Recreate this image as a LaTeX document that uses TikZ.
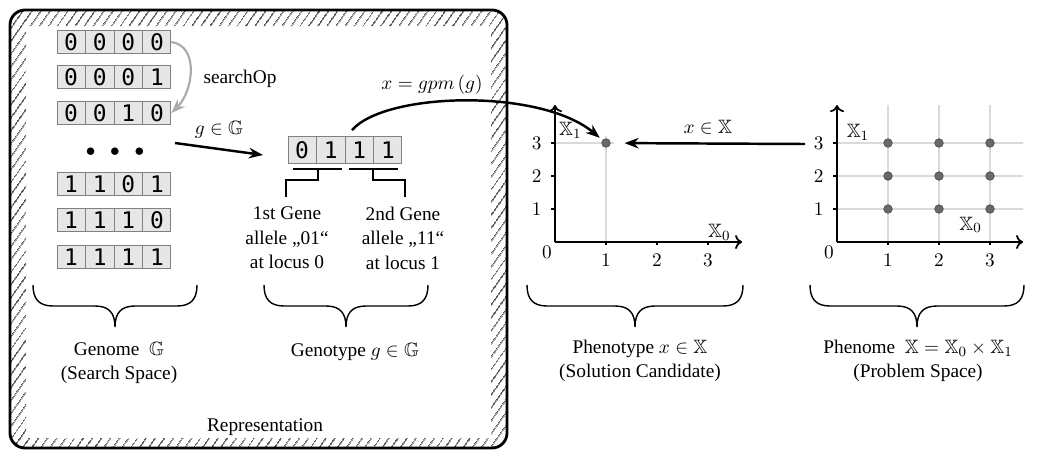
\documentclass[tikz,border=0pt]{standalone}
\usepackage{amsmath, amssymb}
\usepackage{fontspec}
\setmainfont{Liberation Serif}
\newfontfamily\bitfont{DejaVu Sans Mono}
\usepackage{tikz}
\usetikzlibrary{arrows.meta, positioning, calc, shapes.multipart, patterns.meta}
\definecolor{cellgray}{RGB}{230,230,230}
\definecolor{gridgray}{RGB}{218,218,218}
\definecolor{dotgray}{RGB}{105,105,105}
\definecolor{opgray}{RGB}{170,170,170}
\newcommand{\bitcells}[4]{#1\nodepart{two}#2\nodepart{three}#3\nodepart{four}#4}

\tikzset{
  bitstr/.style={rectangle split, rectangle split horizontal, rectangle split parts=4,
    draw=gray, fill=cellgray, line width=0.5pt, font=\bitfont\fontsize{13}{13}\selectfont,
    inner xsep=4pt, inner ysep=1.75pt, text height=9.5pt, text depth=0pt},
  axis/.style={-{To[length=4pt,width=8pt]}, line width=1pt},
  tck/.style={line width=0.8pt},
  pt/.style={circle, fill=dotgray, draw=dotgray!70!black, line width=0.4pt, inner sep=0pt, minimum size=0.17cm},
  brc/.style={line width=0.8pt},
  pics/spcbrace/.style={code={
    \draw[brc] (-#1,0) .. controls (-#1,14) and (-#1+6,21) .. (-#1+20,21) -- (-20,21)
      .. controls (-6,21) and (0,28) .. (0,42) .. controls (0,28) and (6,21) .. (20,21)
      -- (#1-20,21) .. controls (#1-6,21) and (#1,14) .. (#1,0);
  }}
}

\begin{document}
\begin{tikzpicture}[x=0.02cm, y=-0.02cm, >={Stealth[length=8pt,width=6pt]},
    every node/.style={font=\fontsize{11}{13.6}\selectfont}]
  \useasboundingbox (0,0) rectangle (1040,450);

  % representation frame
  \fill[pattern={Lines[angle=55, distance=4pt, line width=0.45pt]}, even odd rule]
    [rounded corners=0.3cm] (10,10) rectangle (507,448) [sharp corners] (26,26) rectangle (491,438);
  \draw[line width=1.6pt, rounded corners=0.3cm] (10,10) rectangle (507,448);
  \node (repr) at (265,427) {Representation};

  % genome
  \node[bitstr] (g0000) at (114,42)  {\bitcells0000};
  \node[bitstr] (g0001) at (114,77)  {\bitcells0001};
  \node[bitstr] (g0010) at (114,113) {\bitcells0010};
  \node (gdots) at (115,152) {$\bullet\hspace{6pt}\bullet\hspace{6pt}\bullet$};
  \node[bitstr] (g1101) at (114,184) {\bitcells1101};
  \node[bitstr] (g1110) at (114,220) {\bitcells1110};
  \node[bitstr] (g1111) at (114,257) {\bitcells1111};
  \draw[->, opgray, line width=1.2pt] (g0000.east) .. controls +(28,4) and +(22,-22) .. (g0010.east);
  \node (srchop) at (240,79) {searchOp};

  % genotype
  \node[bitstr, inner ysep=2.9pt] (gtype) at (345,150) {\bitcells0111};
  \coordinate (gpick) at (175,143);
  \coordinate (gput) at (263,155);
  \draw[->, line width=1.4pt] (gpick) -- (gput) node[midway, above=2pt] {$g\in\mathbb{G}$};
  \draw[line width=1.4pt] (293,169) -- (342,169) (318,169) -- (318,180) -- (286,180) -- (286,197);
  \draw[line width=1.4pt] (349,169) -- (398,169) (373,169) -- (373,180) -- (405,180) -- (405,197);
  \node[align=center, font=\fontsize{11}{13.9}\selectfont] (gene1) at (287,238) {1st Gene\\allele „01“\\at locus 0};
  \node[align=center, font=\fontsize{11}{13.9}\selectfont] (gene2) at (403,238) {2nd Gene\\allele „11“\\at locus 1};

  % phenotype
  \begin{scope}[shift={(555,242)}, x=1.02cm, y=0.66cm]
    \draw[gridgray, line width=0.8pt] (0,3) -- (1.15,3) (1,0) -- (1,3.2);
    \draw[axis] (0,0) -- (3.67,0);
    \draw[axis] (0,0) -- (0,4.15);
    \foreach \i in {1,2,3} {
      \draw[tck] (\i,0) -- (\i,-0.1);
      \draw[tck] (0,\i) -- (-0.08,\i);
      \node at (\i,-0.55) {$\i$};
      \node at (-0.36,\i) {$\i$};
    }
    \node at (-0.16,-0.3) {$0$};
    \node at (0.3,3.38) {$\mathbb{X}_1$};
    \node at (3.22,0.3) {$\mathbb{X}_0$};
    \node[pt] (ptx) at (1,3) {};
  \end{scope}

  % phenome
  \begin{scope}[shift={(837,242)}, x=1.02cm, y=0.66cm]
    \foreach \i in {1,2,3} {
      \draw[gridgray, line width=0.8pt] (0,\i) -- (3.65,\i) (\i,0) -- (\i,4.15);
    }
    \draw[axis] (0,0) -- (3.65,0);
    \draw[axis] (0,0) -- (0,4.15);
    \foreach \i in {1,2,3} {
      \draw[tck] (\i,0) -- (\i,-0.1);
      \draw[tck] (0,\i) -- (-0.08,\i);
      \node at (\i,-0.55) {$\i$};
      \node at (-0.36,\i) {$\i$};
      \foreach \j in {1,2,3}
        \node[pt] (p\i\j) at (\i,\j) {};
    }
    \node at (-0.16,-0.3) {$0$};
    \node at (0.41,3.33) {$\mathbb{X}_1$};
    \node at (2.62,0.52) {$\mathbb{X}_0$};
  \end{scope}

  % mappings
  \draw[->, line width=1.4pt, shorten >=2pt] ($(gtype.north)+(7,-6)$) .. controls (385,92) and (540,88) .. (ptx);
  \node (gpmlbl) at (432,85) {$x=gpm\,(g)$};
  \coordinate (xpick) at (805,144);
  \draw[->, line width=1.4pt, shorten >=0.28cm] (xpick) -- (ptx) node[midway, above=1pt] {$x\in\mathbb{X}$};

  % braces and captions
  \pic at (115,285) {spcbrace=82};
  \pic at (346,285) {spcbrace=82};
  \pic at (635,285) {spcbrace=108};
  \pic at (917,285) {spcbrace=107};
  \node[align=center] (genome) at (119,363) {Genome \ $\mathbb{G}$\\(Search Space)};
  \node (genotype) at (355,352) {Genotype $g\in\mathbb{G}$};
  \node[align=center] (pheno) at (640,361) {Phenotype $x\in\mathbb{X}$\\(Solution Candidate)};
  \node[align=center] (phenome) at (918,361) {Phenome \ $\mathbb{X}=\mathbb{X}_0\times\mathbb{X}_1$\\(Problem Space)};
\end{tikzpicture}
\end{document}
